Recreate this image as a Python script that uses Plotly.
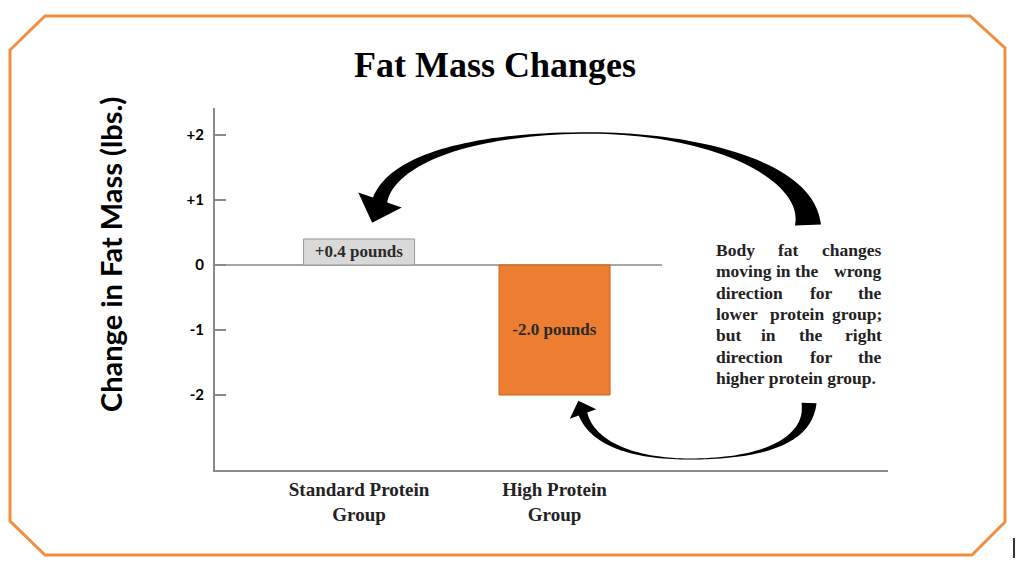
import numpy as np
import plotly.graph_objects as go

# ---- data ----
groups = ["Standard Protein<br>Group", "High Protein<br>Group"]
changes = [0.4, -2.0]
bar_labels = ["+0.4 pounds", "-2.0 pounds"]
bar_colors = ["#D9D9D9", "#ED7D31"]
bar_lines = ["#9A9A9A", "#C9641F"]
ytick_vals = [2, 1, 0, -1, -2]
ytick_text = ["+2", "+1", "0", "-1", "-2"]

note_lines = [
    ["Body", "fat", "changes"],
    ["moving", "in", "the", "wrong"],
    ["direction", "for", "the"],
    ["lower", "protein", "group;"],
    ["but", "in", "the", "right"],
    ["direction", "for", "the"],
    ["higher protein group."],
]
# centre x (px) of middle words
note_mid_x = [[788], [783, 807], [821], [797], [768, 811], [821], []]

# ---- layout geometry ----
# reference pixel positions; the page body has an 8px margin, so shift by OFF
OFF = 8
W, H = 1024 - 2 * OFF, 566 - 2 * OFF
L, R, T, B = 215, 888, 108, 470
PW, PH = R - L, B - T


def paper(px, py):
    return (px - L) / PW, (B - py) / PH


def bez(p0, p1, p2, p3, n=40):
    t = np.linspace(0, 1, n)[:, None]
    p0, p1, p2, p3 = map(np.array, (p0, p1, p2, p3))
    return (1 - t) ** 3 * p0 + 3 * (1 - t) ** 2 * t * p1 + 3 * (1 - t) * t ** 2 * p2 + t ** 3 * p3


def arrow_path(segs, w_tail, w_mid, w_head, head_w, head_len):
    pts = np.vstack([bez(*s) for s in segs])
    s = np.linspace(0, 1, 40)
    wid = np.concatenate([w_mid + (w_tail - w_mid) * (1 - s) ** 2,
                          w_mid + (w_head - w_mid) * s ** 1.5])
    d = np.gradient(pts, axis=0)
    d /= np.linalg.norm(d, axis=1)[:, None]
    nrm = np.column_stack([-d[:, 1], d[:, 0]])
    left = pts + nrm * wid[:, None] / 2
    right = pts - nrm * wid[:, None] / 2
    end, dr, nr = pts[-1], d[-1], nrm[-1]
    head = [end + nr * head_w, end + dr * head_len, end - nr * head_w]
    poly = list(left) + head + list(right[::-1])
    out = ""
    for i, (x, y) in enumerate(poly):
        xp, yp = paper(x, y)
        out += ("M" if i == 0 else "L") + f"{xp:.4f},{yp:.4f} "
    return out + "Z"


fig = go.Figure()

fig.add_trace(go.Bar(
    x=[0, 1],
    y=changes,
    width=0.568,
    marker=dict(color=bar_colors, line=dict(color=bar_lines, width=1)),
    text=bar_labels,
    textposition="inside",
    insidetextanchor="middle",
    textfont=dict(family="Liberation Serif", size=17, color="#2a2a2a", weight="bold"),
    hoverinfo="skip",
))

shapes = []
# octagon frame
frame = [(10, 50), (45, 16), (970, 16), (1005, 48), (1005, 522), (972, 555), (45, 555), (10, 521)]
fp = "M" + " L".join(f"{paper(x, y)[0]:.4f},{paper(x, y)[1]:.4f}" for x, y in frame) + " Z"
shapes.append(dict(type="path", xref="paper", yref="paper", path=fp,
                   line=dict(color="#F28E3F", width=3), layer="below"))
# zero line
shapes.append(dict(type="line", xref="x", yref="y", x0=-0.737, x1=1.55, y0=0, y1=0,
                   line=dict(color="#8A8A8A", width=1.5), layer="below"))
# curved arrows
top_arrow = arrow_path(
    [((808, 225), (808, 168), (700, 133), (590, 133)),
     ((590, 133), (470, 133), (392, 160), (380, 200))],
    w_tail=26, w_mid=1.5, w_head=15, head_w=23, head_len=24)
low_arrow = arrow_path(
    [((809, 403), (809, 442), (760, 459), (690, 459)),
     ((690, 459), (630, 459), (592, 442), (583, 414))],
    w_tail=15, w_mid=1, w_head=9, head_w=14, head_len=14)
for p in (top_arrow, low_arrow):
    shapes.append(dict(type="path", xref="paper", yref="paper", path=p,
                       fillcolor="black", line=dict(width=0)))
# cursor mark at the right edge
x0, y0 = paper(1014, 538)
x1, y1 = paper(1014, 562)
shapes.append(dict(type="line", xref="paper", yref="paper", x0=x0, x1=x1, y0=y0, y1=y1,
                   line=dict(color="#333333", width=2)))

annotations = []
# y axis title
ax, ay = paper(110, 255)
annotations.append(dict(x=ax, y=ay, xref="paper", yref="paper", text="Change in Fat Mass (lbs.)",
                        textangle=-90, showarrow=False, xanchor="center", yanchor="middle",
                        font=dict(family="Lato", size=29, color="black", weight="bold")))
# justified note text
note_font = dict(family="Liberation Serif", size=17.5, color="#222222", weight="bold")
left_x, right_x = 714, 884
for i, words in enumerate(note_lines):
    py = 250 + 21.3 * i
    if len(words) == 1:
        spots = [(left_x, words[0], "left")]
    else:
        spots = [(left_x, words[0], "left")]
        spots += [(mx, w, "center") for mx, w in zip(note_mid_x[i], words[1:-1])]
        spots.append((right_x, words[-1], "right"))
    for px, w, anc in spots:
        xp, yp = paper(px, py)
        annotations.append(dict(x=xp, y=yp, xref="paper", yref="paper", text=w,
                                xanchor=anc, yanchor="middle", showarrow=False, font=note_font))

fig.update_layout(
    width=W,
    height=H,
    margin=dict(l=L - OFF, r=W - (R - OFF), t=T - OFF, b=H - (B - OFF)),
    paper_bgcolor="white",
    plot_bgcolor="white",
    showlegend=False,
    title=dict(text="Fat Mass Changes", x=(495 - OFF) / W, xanchor="center",
               y=1 - (64 - OFF) / H, yanchor="middle",
               font=dict(family="Liberation Serif", size=36, color="black", weight="bold")),
    uniformtext=dict(minsize=17, mode="show"),
    shapes=shapes,
    annotations=annotations,
)

fig.update_xaxes(
    range=[-0.737, 2.706],
    tickvals=[0, 1],
    ticktext=groups,
    showline=True, linecolor="#8A8A8A", linewidth=2,
    showgrid=False, zeroline=False, ticks="",
    ticklabelstandoff=1,
    tickfont=dict(family="Liberation Serif", size=19, color="#222222", weight="bold"),
)
fig.update_yaxes(
    range=[-3.154, 2.415],
    tickvals=ytick_vals,
    ticktext=ytick_text,
    showline=True, linecolor="#8A8A8A", linewidth=2,
    showgrid=False, zeroline=False,
    ticks="inside", ticklen=11, tickcolor="#8A8A8A", tickwidth=1.5,
    ticklabelstandoff=6,
    tickfont=dict(family="Lato", size=15, color="black", weight="bold"),
)

fig.write_html("out.html")
